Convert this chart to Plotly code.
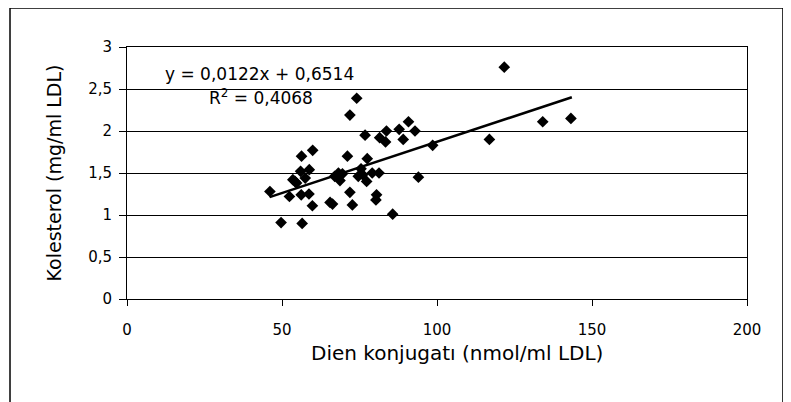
import plotly.graph_objects as go

dien = [46.1, 49.7, 52.4, 56.5, 56.3, 59.9, 56.0, 58.8, 54.7, 53.5, 56.2, 58.7, 59.8,
        65.5, 66.3, 68.2, 68.7, 71.9, 72.7, 71.1, 71.9, 74.1, 74.6, 77.3, 77.5, 76.8,
        79.1, 81.3, 80.5, 80.3, 81.5, 83.4, 83.7, 85.7, 87.8, 89.1, 90.8, 92.9, 94.0,
        98.6, 116.9, 121.7, 134.1, 143.2, 57.5, 67.0, 69.5, 75.5, 76.0, 54.2]
kolesterol = [1.28, 0.91, 1.22, 0.90, 1.70, 1.77, 1.52, 1.54, 1.38, 1.42, 1.24, 1.25, 1.11,
              1.15, 1.13, 1.50, 1.41, 1.27, 1.12, 1.70, 2.19, 2.39, 1.46, 1.40, 1.67, 1.95,
              1.50, 1.50, 1.24, 1.18, 1.92, 1.87, 2.00, 1.01, 2.02, 1.90, 2.11, 2.00, 1.45,
              1.83, 1.90, 2.76, 2.11, 2.15, 1.44, 1.46, 1.49, 1.55, 1.48, 1.40]
slope, intercept = 0.0122, 0.6514
trend_x = [46.0, 143.5]
trend_y = [slope * v + intercept for v in trend_x]

x_ticks = [0, 50, 100, 150, 200]
y_ticks = [0, 0.5, 1, 1.5, 2, 2.5, 3]

fig = go.Figure()
fig.add_trace(go.Scatter(x=dien, y=kolesterol, mode="markers",
                         marker=dict(symbol="diamond", size=9, color="black"),
                         showlegend=False))
fig.add_trace(go.Scatter(x=trend_x, y=trend_y, mode="lines",
                         line=dict(color="black", width=2.5), showlegend=False))

font = "DejaVu Sans, sans-serif"
fig.update_layout(
    width=783, height=394,
    margin=dict(l=119, r=44, t=39, b=103),
    paper_bgcolor="white", plot_bgcolor="white",
    separators=",.",
    font=dict(family=font, size=15, color="black"),
    xaxis=dict(range=[0, 200], tickvals=x_ticks, showgrid=False, zeroline=False,
               showline=True, linecolor="black", linewidth=1, mirror=True,
               ticks="outside", ticklen=6, tickcolor="black", ticklabelstandoff=11),
    yaxis=dict(range=[0, 3], tickvals=y_ticks, showgrid=True, gridcolor="black", gridwidth=1,
               zeroline=False, showline=True, linecolor="black", linewidth=1, mirror=True,
               ticks="outside", ticklen=7, tickcolor="black", ticklabelstandoff=4,
               title=dict(text="Kolesterol (mg/ml LDL)", font=dict(size=19), standoff=21)),
    annotations=[
        dict(x=0.532, y=-0.214, xref="paper", yref="paper", xanchor="center", yanchor="middle",
             text="Dien konjugatı (nmol/ml LDL)", showarrow=False, font=dict(size=20)),
        dict(x=0.058, y=0.893, xref="paper", yref="paper", xanchor="left", yanchor="middle",
             text="y = 0,0122x + 0,6514", showarrow=False, font=dict(size=17)),
        dict(x=0.129, y=0.802, xref="paper", yref="paper", xanchor="left", yanchor="middle",
             text="R<sup>2</sup> = 0,4068", showarrow=False, font=dict(size=17)),
    ],
    shapes=[
        dict(type="line", xref="paper", yref="paper", x0=-0.1887, x1=1.058, y0=1.1548, y1=1.1548,
             line=dict(color="black", width=1.5)),
        dict(type="line", xref="paper", yref="paper", x0=-0.1887, x1=-0.1887, y0=1.1548, y1=-0.5,
             line=dict(color="black", width=1.5)),
        dict(type="line", xref="paper", yref="paper", x0=1.058, x1=1.058, y0=1.1548, y1=-0.5,
             line=dict(color="black", width=1.5)),
    ],
)
fig.write_html("out.html")
